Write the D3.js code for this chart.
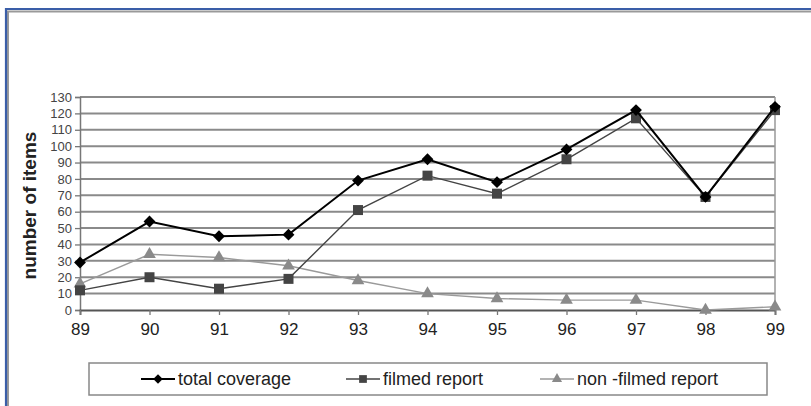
<!DOCTYPE html>
<html><head><meta charset="utf-8">
<script src="https://cdn.jsdelivr.net/npm/d3@7"></script>
<style>body{margin:0;background:#fff;}svg{display:block;}</style>
</head><body>
<script>
const years = ["89","90","91","92","93","94","95","96","97","98","99"];
const totalCoverage = [29,54,45,46,79,92,78,98,122,69,124];
const filmedReport = [12,20,13,19,61,82,71,92,117,69,122];
const nonFilmedReport = [16,34,32,27,18,10,7,6,6,0,2];
const yTicks = [0,10,20,30,40,50,60,70,80,90,100,110,120,130];
const seriesNames = ["total coverage","filmed report","non -filmed report"];

const W=811,H=406;
const svg=d3.select("body").append("svg").attr("width",W).attr("height",H);
svg.append("rect").attr("width",W).attr("height",H).attr("fill","#fff");
// frame
svg.append("path").attr("d",`M7,${H+5} V10 H${W+5}`).attr("fill","none").attr("stroke","#9a9a9a").attr("stroke-width",2).attr("transform","translate(1,1.5)");
svg.append("path").attr("d",`M6,${H+5} V9 H${W+5}`).attr("fill","none").attr("stroke","#3a5ea8").attr("stroke-width",2.2);

const L=80,R=775,T=97,B=310;
const x=d3.scalePoint().domain(years).range([L,R]);
const y=d3.scaleLinear().domain([0,130]).range([B,T]);

// custom diamond (square rotated 45°)
const diamond={draw(ctx,size){const r=Math.sqrt(size/2);ctx.moveTo(0,-r);ctx.lineTo(r,0);ctx.lineTo(0,r);ctx.lineTo(-r,0);ctx.closePath();}};

// gridlines
svg.append("g").selectAll("line").data(yTicks.filter(d=>d>0)).join("line")
 .attr("x1",L).attr("x2",R).attr("y1",d=>y(d)).attr("y2",d=>y(d))
 .attr("stroke","#8a8a8a").attr("stroke-width",2);
// right border
svg.append("line").attr("x1",R).attr("x2",R).attr("y1",T).attr("y2",B).attr("stroke","#999").attr("stroke-width",1.5);

// axes
const yAxis=svg.append("g").attr("transform",`translate(${L},0)`)
 .call(d3.axisLeft(y).tickValues(yTicks).tickSize(5).tickPadding(3));
yAxis.select(".domain").attr("stroke","#777").attr("stroke-width",1.5);
yAxis.selectAll(".tick line").attr("stroke","#777").attr("stroke-width",1.3);
yAxis.selectAll("text").attr("font-family","Liberation Sans Narrow, Liberation Sans, Arial, sans-serif").attr("font-size",13).attr("fill","#444");

const xAxis=svg.append("g").attr("transform",`translate(0,${B})`)
 .call(d3.axisBottom(x).tickSize(5).tickPadding(8));
xAxis.select(".domain").attr("stroke","#555").attr("stroke-width",1.8);
xAxis.selectAll(".tick line").attr("stroke","#777").attr("stroke-width",1.3);
xAxis.selectAll("text").attr("font-family","Liberation Sans, Arial, sans-serif").attr("font-size",17).attr("fill","#222");

svg.append("text").attr("transform",`translate(36,${(T+B)/2+2}) rotate(-90)`)
 .attr("text-anchor","middle").attr("font-family","Liberation Sans, Arial, sans-serif")
 .attr("font-weight","bold").attr("font-size",19).attr("fill","#222").text("number of items");

const line=d3.line().x((d,i)=>x(years[i])).y(d=>y(d));
const series=[
 {vals:nonFilmedReport,color:"#9a9a9a",mcolor:"#8a8a8a",w:1.4,sym:d3.symbolTriangle,size:70},
 {vals:filmedReport,color:"#444",mcolor:"#444",w:1.4,sym:d3.symbolSquare,size:100},
 {vals:totalCoverage,color:"#000",mcolor:"#000",w:2,sym:diamond,size:70}
];
series.forEach(s=>{
 svg.append("path").datum(s.vals).attr("d",line).attr("fill","none").attr("stroke",s.color).attr("stroke-width",s.w);
 svg.append("g").selectAll("path").data(s.vals).join("path")
  .attr("transform",(d,i)=>`translate(${x(years[i])},${y(d)})`)
  .attr("d",d3.symbol().type(s.sym).size(s.size)).attr("fill",s.mcolor);
});

// legend
svg.append("rect").attr("x",89).attr("y",363).attr("width",678).attr("height",32)
 .attr("fill","#fff").attr("stroke","#888").attr("stroke-width",1.5);
const leg=[
 {name:seriesNames[0],x1:141,color:"#000",mcolor:"#000",sym:diamond,size:45,w:2},
 {name:seriesNames[1],x1:346,color:"#444",mcolor:"#444",sym:d3.symbolSquare,size:60,w:1.5},
 {name:seriesNames[2],x1:540,color:"#9a9a9a",mcolor:"#8a8a8a",sym:d3.symbolTriangle,size:45,w:1.5}
];
leg.forEach(l=>{
 const ly=379;
 svg.append("line").attr("x1",l.x1).attr("x2",l.x1+34).attr("y1",ly).attr("y2",ly).attr("stroke",l.color).attr("stroke-width",l.w);
 svg.append("path").attr("transform",`translate(${l.x1+17},${ly})`).attr("d",d3.symbol().type(l.sym).size(l.size)).attr("fill",l.mcolor);
 svg.append("text").attr("x",l.x1+37).attr("y",ly+6).attr("font-family","Liberation Sans, Arial, sans-serif")
  .attr("font-size",18).attr("fill","#222").text(l.name);
});
</script>
</body></html>
